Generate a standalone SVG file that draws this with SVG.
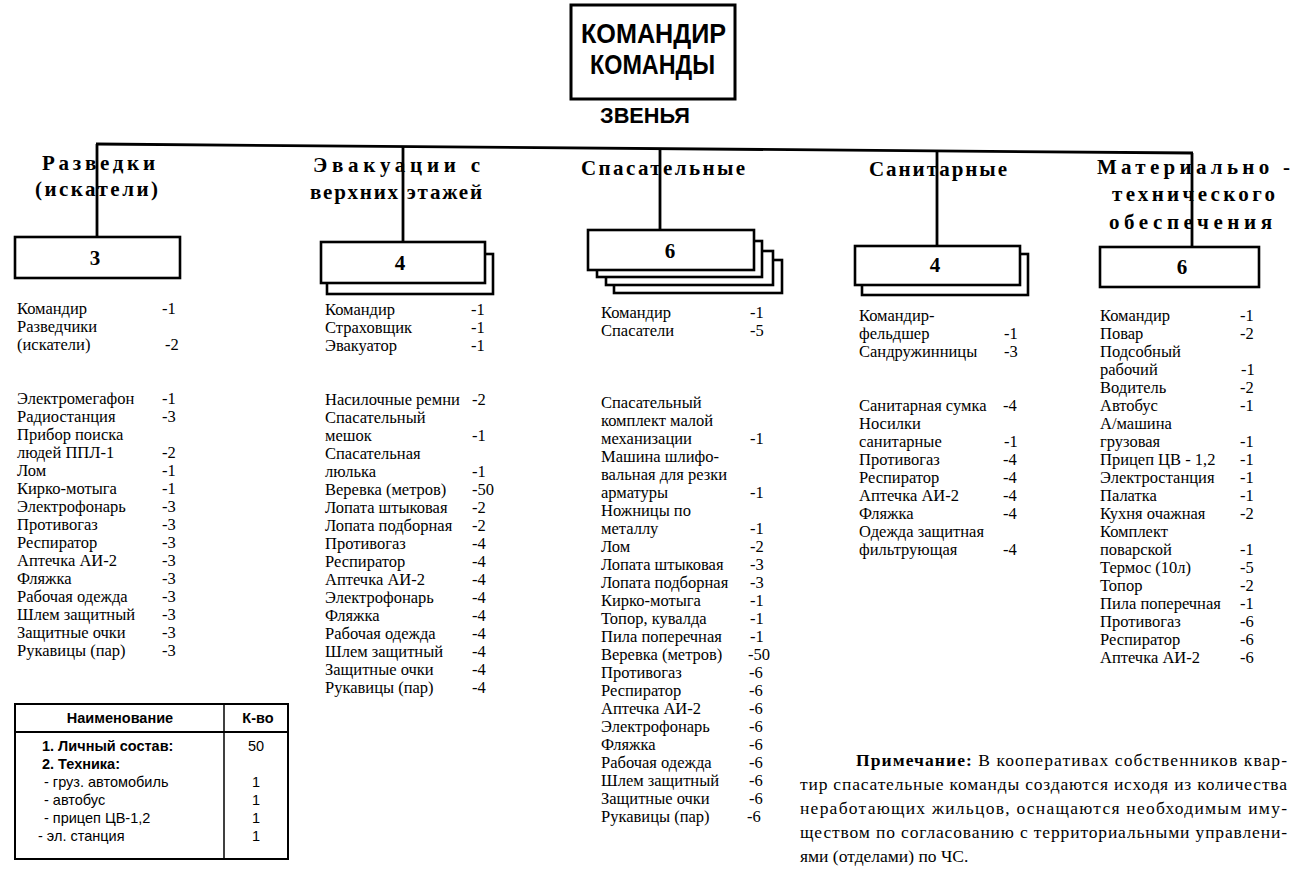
<svg xmlns="http://www.w3.org/2000/svg" width="1298" height="890" viewBox="0 0 1298 890">
<style>
.bg{fill:#fff}
.box{fill:#fff;stroke:#000;stroke-width:2.6}
.ln{stroke:#000;stroke-width:2.8;fill:none}
.top{font-family:"Liberation Sans",Arial,sans-serif;font-weight:bold;font-size:27px;fill:#000}
.hd{font-family:"Liberation Serif","Times New Roman",serif;font-weight:bold;font-size:21px;fill:#000}
.num{font-family:"Liberation Serif","Times New Roman",serif;font-weight:bold;font-size:21px;fill:#000;text-anchor:middle}
.li{font-family:"Liberation Serif","Times New Roman",serif;font-size:16.5px;fill:#000}
.tb{font-family:"Liberation Sans",Arial,sans-serif;font-size:14.5px;fill:#000}
.tbb{font-family:"Liberation Sans",Arial,sans-serif;font-size:14.5px;font-weight:bold;fill:#000}
.nt{font-family:"Liberation Serif","Times New Roman",serif;font-size:17.5px;fill:#000}
</style>
<rect class="bg" x="0" y="0" width="1298" height="890"/>

<g id="commander">
<rect class="box" x="571" y="5" width="164" height="94" style="stroke-width:3"/>
<text class="top" x="581" y="43" textLength="145" lengthAdjust="spacingAndGlyphs">КОМАНДИР</text>
<text class="top" x="590" y="74" textLength="125" lengthAdjust="spacingAndGlyphs">КОМАНДЫ</text>
</g>
<g id="zvenya-label">
<text class="top" x="600" y="123" textLength="90" lengthAdjust="spacingAndGlyphs" style="font-size:22px">ЗВЕНЬЯ</text>
</g>

<g id="connectors">
<line class="ln" x1="96" y1="144" x2="1193" y2="153"/>
<line class="ln" x1="97" y1="144" x2="97" y2="237"/>
<line class="ln" x1="403" y1="146.5" x2="403" y2="242"/>
<line class="ln" x1="660" y1="148.7" x2="660" y2="230"/>
<line class="ln" x1="937" y1="151" x2="937" y2="246"/>
<line class="ln" x1="1192" y1="153" x2="1192" y2="247"/>
</g>

<g id="razvedki">
<text class="hd" x="42" y="170" textLength="113">Разведки</text>
<text class="hd" x="35" y="196" textLength="123">(искатели)</text>
<rect class="box" x="15" y="237" width="165" height="41"/>
<text class="num" x="95" y="265">3</text>
<text class="li">
<tspan x="17" y="314">Командир</tspan><tspan x="162">-1</tspan>
<tspan x="17" y="332">Разведчики</tspan>
<tspan x="17" y="350">(искатели)</tspan><tspan x="165">-2</tspan>
<tspan x="17" y="404">Электромегафон</tspan><tspan x="162">-1</tspan>
<tspan x="17" y="422">Радиостанция</tspan><tspan x="162">-3</tspan>
<tspan x="17" y="440">Прибор поиска</tspan>
<tspan x="17" y="458">людей ППЛ-1</tspan><tspan x="162">-2</tspan>
<tspan x="17" y="476">Лом</tspan><tspan x="162">-1</tspan>
<tspan x="17" y="494">Кирко-мотыга</tspan><tspan x="162">-1</tspan>
<tspan x="17" y="512">Электрофонарь</tspan><tspan x="162">-3</tspan>
<tspan x="17" y="530">Противогаз</tspan><tspan x="162">-3</tspan>
<tspan x="17" y="548">Респиратор</tspan><tspan x="162">-3</tspan>
<tspan x="17" y="566">Аптечка АИ-2</tspan><tspan x="162">-3</tspan>
<tspan x="17" y="584">Фляжка</tspan><tspan x="162">-3</tspan>
<tspan x="17" y="602">Рабочая одежда</tspan><tspan x="162">-3</tspan>
<tspan x="17" y="620">Шлем защитный</tspan><tspan x="162">-3</tspan>
<tspan x="17" y="638">Защитные очки</tspan><tspan x="162">-3</tspan>
<tspan x="17" y="656">Рукавицы (пар)</tspan><tspan x="162">-3</tspan>
</text>
</g>

<g id="evakuacii">
<text class="hd" x="313" y="172" textLength="167">Эвакуации с</text>
<text class="hd" x="310" y="199" textLength="172">верхних этажей</text>
<rect class="box" x="327" y="254" width="166" height="40"/>
<rect class="box" x="321" y="242" width="164" height="41"/>
<text class="num" x="400" y="270">4</text>
<text class="li">
<tspan x="325" y="315">Командир</tspan><tspan x="471">-1</tspan>
<tspan x="325" y="333">Страховщик</tspan><tspan x="471">-1</tspan>
<tspan x="325" y="351">Эвакуатор</tspan><tspan x="471">-1</tspan>
<tspan x="325" y="405">Насилочные ремни</tspan><tspan x="472">-2</tspan>
<tspan x="325" y="423">Спасательный</tspan>
<tspan x="325" y="441">мешок</tspan><tspan x="472">-1</tspan>
<tspan x="325" y="459">Спасательная</tspan>
<tspan x="325" y="477">люлька</tspan><tspan x="472">-1</tspan>
<tspan x="325" y="495">Веревка (метров)</tspan><tspan x="472">-50</tspan>
<tspan x="325" y="513">Лопата штыковая</tspan><tspan x="472">-2</tspan>
<tspan x="325" y="531">Лопата подборная</tspan><tspan x="472">-2</tspan>
<tspan x="325" y="549">Противогаз</tspan><tspan x="472">-4</tspan>
<tspan x="325" y="567">Респиратор</tspan><tspan x="472">-4</tspan>
<tspan x="325" y="585">Аптечка АИ-2</tspan><tspan x="472">-4</tspan>
<tspan x="325" y="603">Электрофонарь</tspan><tspan x="472">-4</tspan>
<tspan x="325" y="621">Фляжка</tspan><tspan x="472">-4</tspan>
<tspan x="325" y="639">Рабочая одежда</tspan><tspan x="472">-4</tspan>
<tspan x="325" y="657">Шлем защитный</tspan><tspan x="472">-4</tspan>
<tspan x="325" y="675">Защитные очки</tspan><tspan x="472">-4</tspan>
<tspan x="325" y="693">Рукавицы (пар)</tspan><tspan x="472">-4</tspan>
</text>
</g>

<g id="spasatelnye">
<text class="hd" x="581" y="175" textLength="164">Спасательные</text>
<rect class="box" x="614" y="260" width="168" height="33"/>
<rect class="box" x="606" y="251" width="167" height="34"/>
<rect class="box" x="597" y="241" width="165" height="36"/>
<rect class="box" x="588" y="230" width="166" height="40"/>
<text class="num" x="670" y="258">6</text>
<text class="li">
<tspan x="601" y="318">Командир</tspan><tspan x="750">-1</tspan>
<tspan x="601" y="336">Спасатели</tspan><tspan x="750">-5</tspan>
<tspan x="601" y="408">Спасательный</tspan>
<tspan x="601" y="426">комплект малой</tspan>
<tspan x="601" y="444">механизации</tspan><tspan x="750">-1</tspan>
<tspan x="601" y="462">Машина шлифо-</tspan>
<tspan x="601" y="480">вальная для резки</tspan>
<tspan x="601" y="498">арматуры</tspan><tspan x="750">-1</tspan>
<tspan x="601" y="516">Ножницы по</tspan>
<tspan x="601" y="534">металлу</tspan><tspan x="750">-1</tspan>
<tspan x="601" y="552">Лом</tspan><tspan x="750">-2</tspan>
<tspan x="601" y="570">Лопата штыковая</tspan><tspan x="750">-3</tspan>
<tspan x="601" y="588">Лопата подборная</tspan><tspan x="750">-3</tspan>
<tspan x="601" y="606">Кирко-мотыга</tspan><tspan x="750">-1</tspan>
<tspan x="601" y="624">Топор, кувалда</tspan><tspan x="750">-1</tspan>
<tspan x="601" y="642">Пила поперечная</tspan><tspan x="750">-1</tspan>
<tspan x="601" y="660">Веревка (метров)</tspan><tspan x="748">-50</tspan>
<tspan x="601" y="678">Противогаз</tspan><tspan x="749">-6</tspan>
<tspan x="601" y="696">Респиратор</tspan><tspan x="749">-6</tspan>
<tspan x="601" y="714">Аптечка АИ-2</tspan><tspan x="749">-6</tspan>
<tspan x="601" y="732">Электрофонарь</tspan><tspan x="749">-6</tspan>
<tspan x="601" y="750">Фляжка</tspan><tspan x="749">-6</tspan>
<tspan x="601" y="768">Рабочая одежда</tspan><tspan x="749">-6</tspan>
<tspan x="601" y="786">Шлем защитный</tspan><tspan x="749">-6</tspan>
<tspan x="601" y="804">Защитные очки</tspan><tspan x="749">-6</tspan>
<tspan x="601" y="822">Рукавицы (пар)</tspan><tspan x="747">-6</tspan>
</text>
</g>

<g id="sanitarnye">
<text class="hd" x="869" y="176" textLength="138">Санитарные</text>
<rect class="box" x="862" y="254" width="166" height="41"/>
<rect class="box" x="855" y="246" width="165" height="39"/>
<text class="num" x="935" y="272">4</text>
<text class="li">
<tspan x="859" y="321">Командир-</tspan>
<tspan x="859" y="339">фельдшер</tspan><tspan x="1004">-1</tspan>
<tspan x="859" y="357">Сандружинницы</tspan><tspan x="1004">-3</tspan>
<tspan x="859" y="411">Санитарная сумка</tspan><tspan x="1003">-4</tspan>
<tspan x="859" y="429">Носилки</tspan>
<tspan x="859" y="447">санитарные</tspan><tspan x="1004">-1</tspan>
<tspan x="859" y="465">Противогаз</tspan><tspan x="1003">-4</tspan>
<tspan x="859" y="483">Респиратор</tspan><tspan x="1003">-4</tspan>
<tspan x="859" y="501">Аптечка АИ-2</tspan><tspan x="1003">-4</tspan>
<tspan x="859" y="519">Фляжка</tspan><tspan x="1003">-4</tspan>
<tspan x="859" y="537">Одежда защитная</tspan>
<tspan x="859" y="555">фильтрующая</tspan><tspan x="1003">-4</tspan>
</text>
</g>

<g id="materialno">
<text class="hd" x="1097" y="174" textLength="193">Материально -</text>
<text class="hd" x="1112" y="201" textLength="163">технического</text>
<text class="hd" x="1109" y="229" textLength="163">обеспечения</text>
<rect class="box" x="1100" y="247" width="159" height="40"/>
<text class="num" x="1182" y="274">6</text>
<text class="li">
<tspan x="1100" y="321">Командир</tspan><tspan x="1240">-1</tspan>
<tspan x="1100" y="339">Повар</tspan><tspan x="1240">-2</tspan>
<tspan x="1100" y="357">Подсобный</tspan>
<tspan x="1100" y="375">рабочий</tspan><tspan x="1241">-1</tspan>
<tspan x="1100" y="393">Водитель</tspan><tspan x="1240">-2</tspan>
<tspan x="1100" y="411">Автобус</tspan><tspan x="1240">-1</tspan>
<tspan x="1100" y="429">А/машина</tspan>
<tspan x="1100" y="447">грузовая</tspan><tspan x="1240">-1</tspan>
<tspan x="1100" y="465">Прицеп ЦВ - 1,2</tspan><tspan x="1240">-1</tspan>
<tspan x="1100" y="483">Электростанция</tspan><tspan x="1240">-1</tspan>
<tspan x="1100" y="501">Палатка</tspan><tspan x="1240">-1</tspan>
<tspan x="1100" y="519">Кухня очажная</tspan><tspan x="1240">-2</tspan>
<tspan x="1100" y="537">Комплект</tspan>
<tspan x="1100" y="555">поварской</tspan><tspan x="1240">-1</tspan>
<tspan x="1100" y="573">Термос (10л)</tspan><tspan x="1240">-5</tspan>
<tspan x="1100" y="591">Топор</tspan><tspan x="1240">-2</tspan>
<tspan x="1100" y="609">Пила поперечная</tspan><tspan x="1240">-1</tspan>
<tspan x="1100" y="627">Противогаз</tspan><tspan x="1240">-6</tspan>
<tspan x="1100" y="645">Респиратор</tspan><tspan x="1240">-6</tspan>
<tspan x="1100" y="663">Аптечка АИ-2</tspan><tspan x="1240">-6</tspan>
</text>
</g>

<g id="summary-table">
<rect x="15" y="704" width="273" height="155" fill="none" stroke="#000" stroke-width="2"/>
<line x1="15" y1="732" x2="288" y2="732" stroke="#000" stroke-width="2"/>
<line x1="224" y1="704" x2="224" y2="859" stroke="#000" stroke-width="1.5"/>
<text class="tbb" x="120" y="723" text-anchor="middle">Наименование</text>
<text class="tbb" x="258" y="723" text-anchor="middle">К-во</text>
<text class="tbb" x="42" y="751">1. Личный состав:</text>
<text class="tb" x="256" y="751" text-anchor="middle">50</text>
<text class="tbb" x="42" y="769">2. Техника:</text>
<text class="tb" x="44" y="787">- груз. автомобиль</text>
<text class="tb" x="256" y="787" text-anchor="middle">1</text>
<text class="tb" x="44" y="805">- автобус</text>
<text class="tb" x="256" y="805" text-anchor="middle">1</text>
<text class="tb" x="44" y="823">- прицеп ЦВ-1,2</text>
<text class="tb" x="256" y="823" text-anchor="middle">1</text>
<text class="tb" x="38" y="841">- эл. станция</text>
<text class="tb" x="256" y="841" text-anchor="middle">1</text>
</g>

<g id="note">
<text class="nt" x="856" y="766" textLength="431"><tspan font-weight="bold">Примечание:</tspan> В кооперативах собственников квар-</text>
<text class="nt" x="800" y="790" textLength="487">тир спасательные команды создаются исходя из количества</text>
<text class="nt" x="800" y="814" textLength="487">неработающих жильцов, оснащаются необходимым иму-</text>
<text class="nt" x="800" y="838" textLength="487">ществом по согласованию с территориальными управлени-</text>
<text class="nt" x="800" y="862">ями (отделами) по ЧС.</text>
</g>
</svg>
